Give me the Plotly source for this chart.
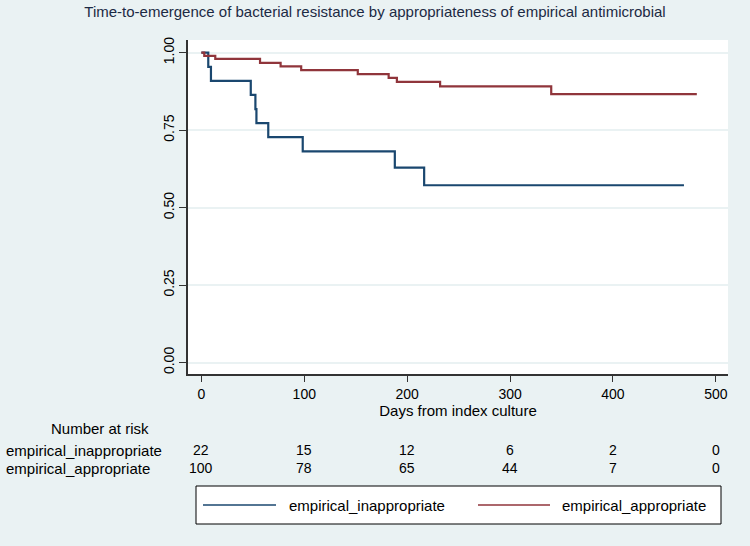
import plotly.graph_objects as go

# ---- data ----
series_names = ["empirical_inappropriate", "empirical_appropriate"]
days_inappropriate = [0, 6.7, 9.3, 48, 52.5, 53.5, 65, 98.5, 188, 216.5, 469]
surv_inappropriate = [1.0, 0.9545, 0.9091, 0.8636, 0.8182, 0.7727, 0.7273, 0.6818, 0.6294, 0.5722, 0.5722]
days_appropriate = [0, 2.8, 13.5, 57, 77, 97, 152, 182, 190, 232, 340, 481.5]
surv_appropriate = [1.0, 0.99, 0.98, 0.967, 0.956, 0.944, 0.931, 0.919, 0.906, 0.891, 0.866, 0.866]
x_ticks = [0, 100, 200, 300, 400, 500]
y_ticks = [0, 0.25, 0.5, 0.75, 1.0]
y_ticklabels = ["0.00", "0.25", "0.50", "0.75", "1.00"]
risk_inappropriate = [22, 15, 12, 6, 2, 0]
risk_appropriate = [100, 78, 65, 44, 7, 0]

BLUE = "#1a476f"
RED = "#90353b"
BG = "#eaf2f3"
FONT = "Liberation Sans, Arial, sans-serif"
TXT = 15   # text size
NUM = 14   # numbers size

fig = go.Figure()
fig.add_trace(go.Scatter(x=days_inappropriate, y=surv_inappropriate, mode="lines",
                         line=dict(color=BLUE, width=2.2, shape="hv"),
                         name=series_names[0], showlegend=False))
fig.add_trace(go.Scatter(x=days_appropriate, y=surv_appropriate, mode="lines",
                         line=dict(color=RED, width=2.2, shape="hv"),
                         name=series_names[1], showlegend=False))

# plot geometry (pixels)
W, H = 750, 546
ml, mr, mt, mb = 188, 22, 40, 172
pw, ph = W - ml - mr, H - mt - mb


def px_x(px):
    return (px - ml) / pw


def px_y(py):
    return (H - mb - py) / ph


annotations = []
# risk table
annotations.append(dict(text="Number at risk", xref="paper", yref="paper",
                        x=px_x(100), y=px_y(428), xanchor="center", yanchor="middle",
                        showarrow=False, font=dict(size=TXT, color="black", family=FONT)))
for name, counts, py in [(series_names[0], risk_inappropriate, 450),
                         (series_names[1], risk_appropriate, 468)]:
    annotations.append(dict(text=name, xref="paper", yref="paper",
                            x=px_x(4), y=px_y(py), xanchor="left", yanchor="middle",
                            showarrow=False, font=dict(size=TXT, color="black", family=FONT)))
    for xt, c in zip(x_ticks, counts):
        annotations.append(dict(text=str(c), xref="x", yref="paper",
                                x=xt, y=px_y(py), xanchor="center", yanchor="middle",
                                showarrow=False, font=dict(size=NUM, color="black", family=FONT)))

# manual legend
shapes = []
shapes.append(dict(type="rect", xref="paper", yref="paper",
                   x0=px_x(196), x1=px_x(721), y0=px_y(486), y1=px_y(524),
                   line=dict(color="black", width=1), fillcolor="white", layer="above"))
for (col, lx0, lx1, tx), name in zip([(BLUE, 203, 276, 287), (RED, 478, 550, 560)], series_names):
    shapes.append(dict(type="line", xref="paper", yref="paper",
                       x0=px_x(lx0), x1=px_x(lx1), y0=px_y(505), y1=px_y(505),
                       line=dict(color=col, width=1.5), layer="above"))
    annotations.append(dict(text=name, xref="paper", yref="paper",
                            x=px_x(tx), y=px_y(505), xanchor="left", yanchor="middle",
                            showarrow=False, font=dict(size=TXT, color="black", family=FONT)))

fig.update_layout(
    width=W, height=H,
    margin=dict(l=ml, r=mr, t=mt, b=mb),
    paper_bgcolor=BG, plot_bgcolor="white",
    font=dict(family=FONT, size=NUM, color="black"),
    title=dict(text="Time-to-emergence of bacterial resistance by appropriateness of empirical antimicrobial",
               xref="container", x=0.5, xanchor="center",
               yref="container", y=1 - 12 / H, yanchor="middle",
               font=dict(size=TXT, color="#1c2a44", family=FONT)),
    xaxis=dict(range=[-13, 511.8], tickvals=x_ticks, ticks="outside", ticklen=6,
               tickcolor="#333", showline=True, linecolor="#333", linewidth=1.5,
               showgrid=False, zeroline=False, tickfont=dict(size=NUM),
               title=dict(text="Days from index culture", standoff=0, font=dict(size=TXT))),
    yaxis=dict(range=[-0.037, 1.041], tickvals=y_ticks, ticktext=y_ticklabels,
               tickangle=-90, ticks="outside", ticklen=7, tickcolor="#333",
               showline=True, linecolor="#333", linewidth=1.5, tickfont=dict(size=NUM),
               showgrid=True, gridcolor=BG, gridwidth=1.5, zeroline=False),
    annotations=annotations, shapes=shapes,
)

fig.write_html("out.html")
